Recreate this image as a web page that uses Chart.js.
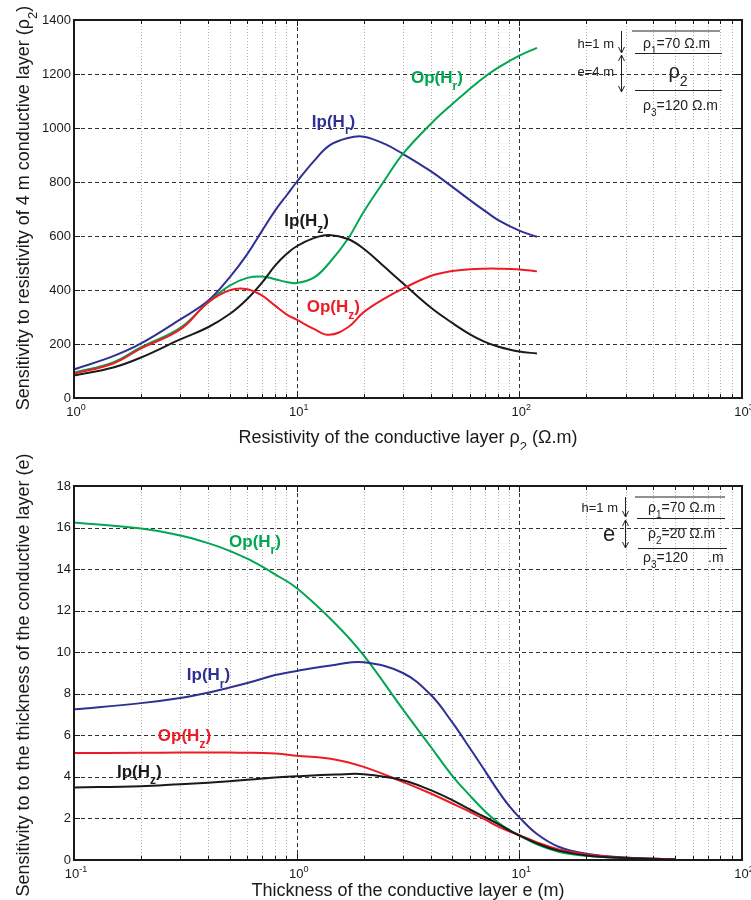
<!DOCTYPE html>
<html>
<head>
<meta charset="utf-8">
<script src="https://cdn.jsdelivr.net/npm/chart.js@4.4.1/dist/chart.umd.min.js"></script>
<style>
body { margin: 0; background: #fff; }
#wrap { position: relative; width: 751px; height: 900px; }
#wrap canvas { position: absolute; left: 0; }
</style>
</head>
<body>
<div id="wrap">
  <canvas id="topChart" width="751" height="450" style="top:0"></canvas>
  <canvas id="bottomChart" width="751" height="450" style="top:450px"></canvas>
</div>
<script>
// --- top panel: sensitivity to rho2 ---
var rhoX = [1, 1.5, 2, 3, 4, 5, 6, 7, 8, 9, 10, 12, 14, 17, 20, 25, 30, 40, 50, 60, 70, 80, 100, 120];
var rhoIpHr = [106, 155, 202, 291, 360, 447, 533, 620, 694, 750, 800, 879, 935, 963, 968, 940, 904, 840, 782, 733, 693, 660, 620, 597];
var rhoIpHz = [83, 113, 150, 217, 262, 311, 367, 428, 490, 533, 562, 593, 604, 589, 553, 483, 425, 335, 278, 236, 208, 191, 172, 165];
var rhoOpHr = [94, 132, 188, 260, 354, 416, 445, 450, 440, 430, 426, 447, 500, 590, 690, 810, 904, 1015, 1089, 1145, 1190, 1223, 1268, 1297];
var rhoOpHz = [90, 128, 184, 254, 354, 399, 403, 379, 342, 310, 290, 255, 234, 262, 318, 370, 405, 452, 470, 477, 479, 479, 476, 469];
var rhoXTicks = [1, 10, 100, 1000];
var rhoXExp = ['0', '1', '2', '3'];
var rhoYTicks = [0, 200, 400, 600, 800, 1000, 1200, 1400];

// --- bottom panel: sensitivity to thickness e ---
var thickX = [0.1, 0.2, 0.3, 0.4, 0.5, 0.6, 0.7, 0.8, 1, 1.5, 2, 3, 4, 5, 6, 7, 8, 9, 10, 12, 15, 20, 30, 50];
var thickOpHr = [16.24, 15.95, 15.62, 15.25, 14.88, 14.5, 14.12, 13.75, 13.09, 11.35, 9.85, 7.25, 5.45, 4.05, 3.1, 2.35, 1.82, 1.45, 1.18, 0.75, 0.4, 0.2, 0.08, 0.02];
var thickIpHr = [7.25, 7.55, 7.8, 8.05, 8.3, 8.52, 8.72, 8.9, 9.1, 9.4, 9.52, 9.0, 7.95, 6.62, 5.38, 4.3, 3.35, 2.6, 2.05, 1.25, 0.64, 0.3, 0.12, 0.03];
var thickOpHz = [5.15, 5.16, 5.17, 5.17, 5.17, 5.16, 5.15, 5.12, 5.02, 4.83, 4.48, 3.76, 3.2, 2.72, 2.32, 1.95, 1.62, 1.38, 1.2, 0.85, 0.51, 0.27, 0.11, 0.03];
var thickIpHz = [3.49, 3.55, 3.65, 3.72, 3.79, 3.86, 3.92, 3.97, 4.03, 4.11, 4.13, 3.84, 3.36, 2.88, 2.43, 2.07, 1.74, 1.43, 1.18, 0.8, 0.45, 0.22, 0.1, 0.02];
var thickXTicks = [0.1, 1, 10, 100];
var thickXExp = ['-1', '0', '1', '2'];
var thickYTicks = [0, 2, 4, 6, 8, 10, 12, 14, 16, 18];

var BLUE = '#2e3192', GREEN = '#00a651', RED = '#ed1c24', BLACK = '#1a1a1a';
var FONT = '"Liberation Sans", Arial, Helvetica, sans-serif';

function pts(xs, ys) {
    return xs.map(function (x, i) { return { x: x, y: ys[i] }; });
}

function setFont(ctx, size, bold) {
    ctx.font = (bold ? 'bold ' : '') + size + 'px ' + FONT;
}

// parts: [[text, mode]] with mode '', 'sub' or 'sup'
function drawRich(ctx, parts, x, y, size, align, bold) {
    var w = 0;
    parts.forEach(function (p) {
        setFont(ctx, p[1] ? Math.round(size * 0.72) : size, bold);
        w += ctx.measureText(p[0]).width;
    });
    var cx = align === 'center' ? x - w / 2 : (align === 'right' ? x - w : x);
    ctx.textAlign = 'left';
    ctx.textBaseline = 'alphabetic';
    parts.forEach(function (p) {
        var s = p[1] ? Math.round(size * 0.72) : size;
        var dy = p[1] === 'sub' ? size * 0.42 : (p[1] === 'sup' ? -size * 0.5 : 0);
        setFont(ctx, s, bold);
        ctx.fillText(p[0], cx, y + dy);
        cx += ctx.measureText(p[0]).width;
    });
}

function arrowHead(ctx, x, y, dir) {
    ctx.beginPath();
    ctx.moveTo(x - 3, y - 6 * dir);
    ctx.lineTo(x, y);
    ctx.lineTo(x + 3, y - 6 * dir);
    ctx.stroke();
}

function panelPlugin(panel) {
    return {
        id: 'panel',
        beforeDatasetsDraw: function (chart) {
            var ctx = chart.ctx, a = chart.chartArea;
            var xs = chart.scales.x, ys = chart.scales.y;
            ctx.save();
            ctx.lineWidth = 1;
            // minor x grid (dotted)
            ctx.strokeStyle = '#b5b5b5';
            ctx.setLineDash([1, 2]);
            for (var d = 0; d < panel.xTicks.length - 1; d++) {
                for (var k = 2; k <= 9; k++) {
                    var px = Math.round(xs.getPixelForValue(panel.xTicks[d] * k)) + 0.5;
                    ctx.beginPath(); ctx.moveTo(px, a.top); ctx.lineTo(px, a.bottom); ctx.stroke();
                }
            }
            // major grid (dashed)
            ctx.strokeStyle = '#333';
            ctx.setLineDash([4, 3]);
            panel.xTicks.slice(1, -1).forEach(function (v) {
                var px = Math.round(xs.getPixelForValue(v)) + 0.5;
                ctx.beginPath(); ctx.moveTo(px, a.top); ctx.lineTo(px, a.bottom); ctx.stroke();
            });
            panel.yTicks.slice(1, -1).forEach(function (v) {
                var py = Math.round(ys.getPixelForValue(v)) + 0.5;
                ctx.beginPath(); ctx.moveTo(a.left, py); ctx.lineTo(a.right, py); ctx.stroke();
            });
            ctx.restore();
        },
        afterDatasetsDraw: function (chart) {
            var ctx = chart.ctx, a = chart.chartArea;
            var xs = chart.scales.x, ys = chart.scales.y;
            ctx.save();
            ctx.fillStyle = '#1a1a1a';
            ctx.strokeStyle = '#1a1a1a';
            // ticks
            ctx.lineWidth = 1;
            for (var d = 0; d < panel.xTicks.length - 1; d++) {
                for (var k = 1; k <= 9; k++) {
                    var px = Math.round(xs.getPixelForValue(panel.xTicks[d] * k)) + 0.5;
                    var len = k === 1 ? 6 : 4;
                    ctx.beginPath();
                    ctx.moveTo(px, a.bottom); ctx.lineTo(px, a.bottom - len);
                    ctx.moveTo(px, a.top); ctx.lineTo(px, a.top + len);
                    ctx.stroke();
                }
            }
            panel.yTicks.forEach(function (v) {
                var py = Math.round(ys.getPixelForValue(v)) + 0.5;
                ctx.beginPath();
                ctx.moveTo(a.left, py); ctx.lineTo(a.left + 6, py);
                ctx.moveTo(a.right, py); ctx.lineTo(a.right - 6, py);
                ctx.stroke();
            });
            // box
            ctx.lineWidth = 2;
            ctx.strokeRect(a.left, a.top, a.right - a.left, a.bottom - a.top);
            // y tick labels
            setFont(ctx, 13, false);
            ctx.textAlign = 'right';
            ctx.textBaseline = 'middle';
            panel.yTicks.forEach(function (v) {
                ctx.fillText(String(v), a.left - 3, ys.getPixelForValue(v));
            });
            // x tick labels
            panel.xTicks.forEach(function (v, i) {
                drawRich(ctx, [['10', ''], [panel.xExp[i], 'sup']], xs.getPixelForValue(v) + 2, a.bottom + 18, 13, 'center');
            });
            // axis titles
            drawRich(ctx, panel.xTitle, (a.left + a.right) / 2, a.bottom + panel.xTitleGap, 18, 'center');
            ctx.save();
            ctx.translate(panel.yTitleX, panel.yTitleY);
            ctx.rotate(-Math.PI / 2);
            drawRich(ctx, panel.yTitle, 0, 0, 18, 'center');
            ctx.restore();
            // curve labels
            panel.curveLabels.forEach(function (c) {
                ctx.fillStyle = c.color;
                drawRich(ctx, [[c.name + '(H', ''], [c.sub, 'sub'], [')', '']],
                    xs.getPixelForValue(c.x), ys.getPixelForValue(c.y), 17, 'left', true);
            });
            // inset sketch of the layered model
            ctx.fillStyle = '#222';
            ctx.strokeStyle = '#222';
            ctx.lineWidth = 1;
            panel.inset(ctx, a);
            ctx.restore();
        }
    };
}

function makeChart(id, panel) {
    return new Chart(document.getElementById(id), {
        type: 'line',
        data: {
            datasets: panel.series.map(function (s) {
                return { data: pts(panel.x, s.values), borderColor: s.color, borderWidth: 2, pointRadius: 0, fill: false, tension: 0.4 };
            })
        },
        options: {
            responsive: false,
            animation: false,
            layout: { padding: panel.padding },
            plugins: { legend: { display: false }, tooltip: { enabled: false } },
            scales: {
                x: { type: 'logarithmic', min: panel.xTicks[0], max: panel.xTicks[panel.xTicks.length - 1], display: false },
                y: { type: 'linear', min: panel.yTicks[0], max: panel.yTicks[panel.yTicks.length - 1], display: false }
            }
        },
        plugins: [panelPlugin(panel)]
    });
}

makeChart('topChart', {
    x: rhoX,
    series: [
        { values: rhoOpHz, color: RED },
        { values: rhoIpHz, color: BLACK },
        { values: rhoOpHr, color: GREEN },
        { values: rhoIpHr, color: BLUE }
    ],
    xTicks: rhoXTicks, xExp: rhoXExp, yTicks: rhoYTicks,
    padding: { left: 74, right: 9, top: 20, bottom: 52 },
    xTitle: [['Resistivity of the conductive layer \u03c1', ''], ['2', 'sub'], [' (\u03a9.m)', '']],
    xTitleGap: 45,
    yTitle: [['Sensitivity to resistivity of 4 m conductive layer (\u03c1', ''], ['2', 'sub'], [')', '']],
    yTitleX: 29, yTitleY: 208,
    curveLabels: [
        { name: 'Op', sub: 'r', color: GREEN, x: 32.6, y: 1168 },
        { name: 'Ip', sub: 'r', color: BLUE, x: 11.7, y: 1005 },
        { name: 'Ip', sub: 'z', color: BLACK, x: 8.8, y: 638 },
        { name: 'Op', sub: 'z', color: RED, x: 11.1, y: 320 }
    ],
    inset: function (ctx, a) {
        ctx.beginPath();
        ctx.moveTo(632, 31); ctx.lineTo(720, 31);
        ctx.moveTo(635, 53.5); ctx.lineTo(722, 53.5);
        ctx.moveTo(635, 90.5); ctx.lineTo(722, 90.5);
        ctx.moveTo(621.5, 31); ctx.lineTo(621.5, 53);
        ctx.moveTo(621.5, 55); ctx.lineTo(621.5, 92);
        ctx.stroke();
        arrowHead(ctx, 621.5, 53, 1);
        arrowHead(ctx, 621.5, 55, -1);
        arrowHead(ctx, 621.5, 92, 1);
        drawRich(ctx, [['h=1 m', '']], 614, 48, 13, 'right');
        drawRich(ctx, [['e=4 m', '']], 614, 76, 13, 'right');
        drawRich(ctx, [['\u03c1', ''], ['1', 'sub'], ['=70 \u03a9.m', '']], 643, 48, 14, 'left');
        drawRich(ctx, [['\u03c1', ''], ['2', 'sub']], 678, 78, 20, 'center');
        drawRich(ctx, [['\u03c1', ''], ['3', 'sub'], ['=120 \u03a9.m', '']], 643, 110, 14, 'left');
    }
});

makeChart('bottomChart', {
    x: thickX,
    series: [
        { values: thickIpHz, color: BLACK },
        { values: thickOpHz, color: RED },
        { values: thickIpHr, color: BLUE },
        { values: thickOpHr, color: GREEN }
    ],
    xTicks: thickXTicks, xExp: thickXExp, yTicks: thickYTicks,
    padding: { left: 74, right: 9, top: 36, bottom: 40 },
    xTitle: [['Thickness of the conductive layer e (m)', '']],
    xTitleGap: 36,
    yTitle: [['Sensitivity to to the thickness of the conductive layer (e)', '']],
    yTitleX: 29, yTitleY: 225,
    curveLabels: [
        { name: 'Op', sub: 'r', color: GREEN, x: 0.497, y: 15.07 },
        { name: 'Ip', sub: 'r', color: BLUE, x: 0.321, y: 8.64 },
        { name: 'Op', sub: 'z', color: RED, x: 0.238, y: 5.71 },
        { name: 'Ip', sub: 'z', color: BLACK, x: 0.156, y: 3.98 }
    ],
    inset: function (ctx, a) {
        ctx.beginPath();
        ctx.moveTo(635, 47); ctx.lineTo(725, 47);
        ctx.moveTo(637, 68.5); ctx.lineTo(725, 68.5);
        ctx.moveTo(638, 98.5); ctx.lineTo(727, 98.5);
        ctx.moveTo(625.5, 47); ctx.lineTo(625.5, 67);
        ctx.moveTo(625.5, 70); ctx.lineTo(625.5, 98);
        ctx.stroke();
        arrowHead(ctx, 625.5, 67, 1);
        arrowHead(ctx, 625.5, 70, -1);
        arrowHead(ctx, 625.5, 98, 1);
        drawRich(ctx, [['h=1 m', '']], 618, 62, 13, 'right');
        drawRich(ctx, [['e', '']], 609, 91, 22, 'center');
        drawRich(ctx, [['\u03c1', ''], ['1', 'sub'], ['=70 \u03a9.m', '']], 648, 62, 14, 'left');
        drawRich(ctx, [['\u03c1', ''], ['2', 'sub'], ['=20 \u03a9.m', '']], 648, 88, 14, 'left');
        drawRich(ctx, [['\u03c1', ''], ['3', 'sub'], ['=120', '']], 643, 112, 14, 'left');
        drawRich(ctx, [['.m', '']], 708, 112, 14, 'left');
    }
});
</script>
</body>
</html>
